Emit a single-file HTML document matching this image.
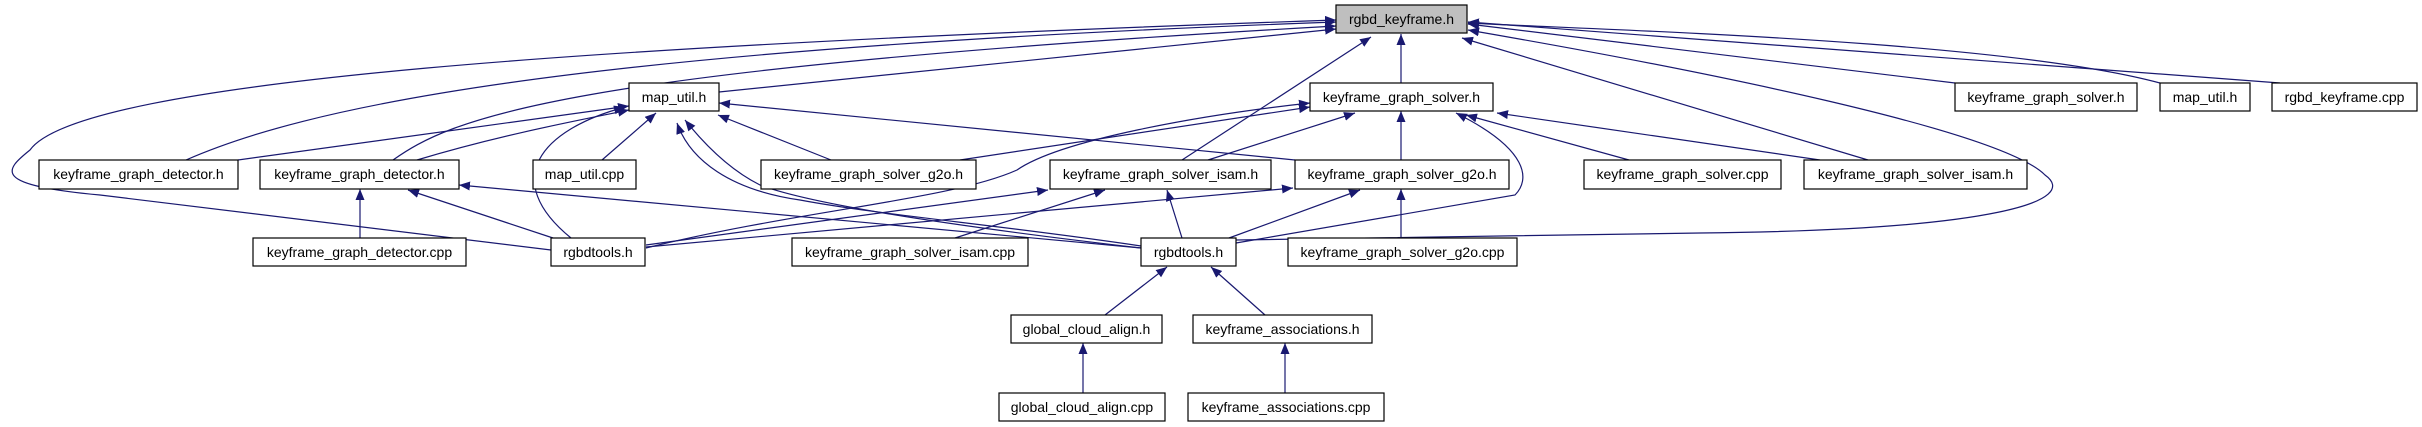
<!DOCTYPE html>
<html><head><meta charset="utf-8"><style>
html,body{margin:0;padding:0;background:#fff;}
svg{display:block;}
text{font-family:"Liberation Sans",sans-serif;font-size:14px;fill:#000;}
</style></head><body>
<svg width="2422" height="427" viewBox="0 0 2422 427" xmlns="http://www.w3.org/2000/svg">
<defs>
<marker id="a" markerUnits="userSpaceOnUse" markerWidth="12" markerHeight="10" refX="11" refY="4.5" orient="auto">
<path d="M0,0 L11,4.5 L0,9 z" fill="#191970"/>
</marker>
</defs>
<g fill="none" stroke="#191970" stroke-width="1.2" marker-end="url(#a)">
<path d="M186,160 C300,110 550,50 1336,22"/>
<path d="M551,250 L100,195 C-10,185 5,170 30,150 C80,80 600,45 1336,20"/>
<path d="M393,160 C450,120 550,70 1336,26"/>
<path d="M719,92 L1336,29"/>
<path d="M1182,160 L1371,37"/>
<path d="M1401,83 L1401,34"/>
<path d="M1955,83 L1468,24"/>
<path d="M2160,83 C2000,40 1600,30 1468,23"/>
<path d="M2280,83 L1468,22"/>
<path d="M1868,160 L1462,38"/>
<path d="M1236,240 L1700,233 C2000,230 2080,200 2045,175 C2000,130 1700,70 1468,30"/>
<path d="M238,160 L629,106"/>
<path d="M417,160 C500,135 580,120 629,110"/>
<path d="M602,160 L656,113"/>
<path d="M571,238 C500,180 540,130 625,107"/>
<path d="M831,160 L718,115"/>
<path d="M1295,160 L719,103"/>
<path d="M1141,246 C1000,225 880,215 800,200 C730,190 690,160 677,123"/>
<path d="M1141,248 C900,220 800,200 760,185 C730,170 705,145 685,120"/>
<path d="M1141,248 L459,185"/>
<path d="M360,238 L360,189"/>
<path d="M553,238 L408,190"/>
<path d="M960,160 L1310,107"/>
<path d="M646,248 C800,210 950,200 1017,170 C1060,140 1200,115 1310,103"/>
<path d="M1208,160 L1355,113"/>
<path d="M1401,160 L1401,111"/>
<path d="M1236,243 L1515,195 C1530,180 1530,150 1456,113"/>
<path d="M1629,160 L1466,115"/>
<path d="M1820,160 L1497,113"/>
<path d="M646,245 L1048,190"/>
<path d="M955,238 L1105,190"/>
<path d="M1182,238 L1167,190"/>
<path d="M646,247 L1293,188"/>
<path d="M1229,238 L1360,190"/>
<path d="M1401,238 L1401,189"/>
<path d="M1105,315 L1167,267"/>
<path d="M1265,315 L1211,267"/>
<path d="M1083,393 L1083,343"/>
<path d="M1285,393 L1285,343"/>
</g>
<g stroke="#000" stroke-width="1.2" fill="#fff">
<rect x="1336" y="5" width="131" height="28" fill="#bfbfbf"/>
<rect x="629" y="83" width="90" height="28"/>
<rect x="1310" y="83" width="183" height="28"/>
<rect x="1955" y="83" width="182" height="28"/>
<rect x="2160" y="83" width="90" height="28"/>
<rect x="2272" y="83" width="145" height="28"/>
<rect x="39" y="160" width="199" height="29"/>
<rect x="260" y="160" width="199" height="29"/>
<rect x="533" y="160" width="103" height="29"/>
<rect x="761" y="160" width="215" height="29"/>
<rect x="1050" y="160" width="221" height="29"/>
<rect x="1295" y="160" width="214" height="29"/>
<rect x="1584" y="160" width="197" height="29"/>
<rect x="1804" y="160" width="223" height="29"/>
<rect x="253" y="238" width="213" height="28"/>
<rect x="551" y="238" width="94" height="28"/>
<rect x="792" y="238" width="236" height="28"/>
<rect x="1141" y="238" width="95" height="28"/>
<rect x="1288" y="238" width="229" height="28"/>
<rect x="1011" y="315" width="151" height="28"/>
<rect x="1193" y="315" width="179" height="28"/>
<rect x="999" y="393" width="166" height="28"/>
<rect x="1188" y="393" width="196" height="28"/>
</g>
<g text-anchor="middle">
<text x="1401.5" y="24">rgbd_keyframe.h</text>
<text x="674" y="102">map_util.h</text>
<text x="1401.5" y="102">keyframe_graph_solver.h</text>
<text x="2046" y="102">keyframe_graph_solver.h</text>
<text x="2205" y="102">map_util.h</text>
<text x="2344.5" y="102">rgbd_keyframe.cpp</text>
<text x="138.5" y="179">keyframe_graph_detector.h</text>
<text x="359.5" y="179">keyframe_graph_detector.h</text>
<text x="584.5" y="179">map_util.cpp</text>
<text x="868.5" y="179">keyframe_graph_solver_g2o.h</text>
<text x="1160.5" y="179">keyframe_graph_solver_isam.h</text>
<text x="1402" y="179">keyframe_graph_solver_g2o.h</text>
<text x="1682.5" y="179">keyframe_graph_solver.cpp</text>
<text x="1915.5" y="179">keyframe_graph_solver_isam.h</text>
<text x="359.5" y="257">keyframe_graph_detector.cpp</text>
<text x="598" y="257">rgbdtools.h</text>
<text x="910" y="257">keyframe_graph_solver_isam.cpp</text>
<text x="1188.5" y="257">rgbdtools.h</text>
<text x="1402.5" y="257">keyframe_graph_solver_g2o.cpp</text>
<text x="1086.5" y="334">global_cloud_align.h</text>
<text x="1282.5" y="334">keyframe_associations.h</text>
<text x="1082" y="412">global_cloud_align.cpp</text>
<text x="1286" y="412">keyframe_associations.cpp</text>
</g>
</svg>
</body></html>
